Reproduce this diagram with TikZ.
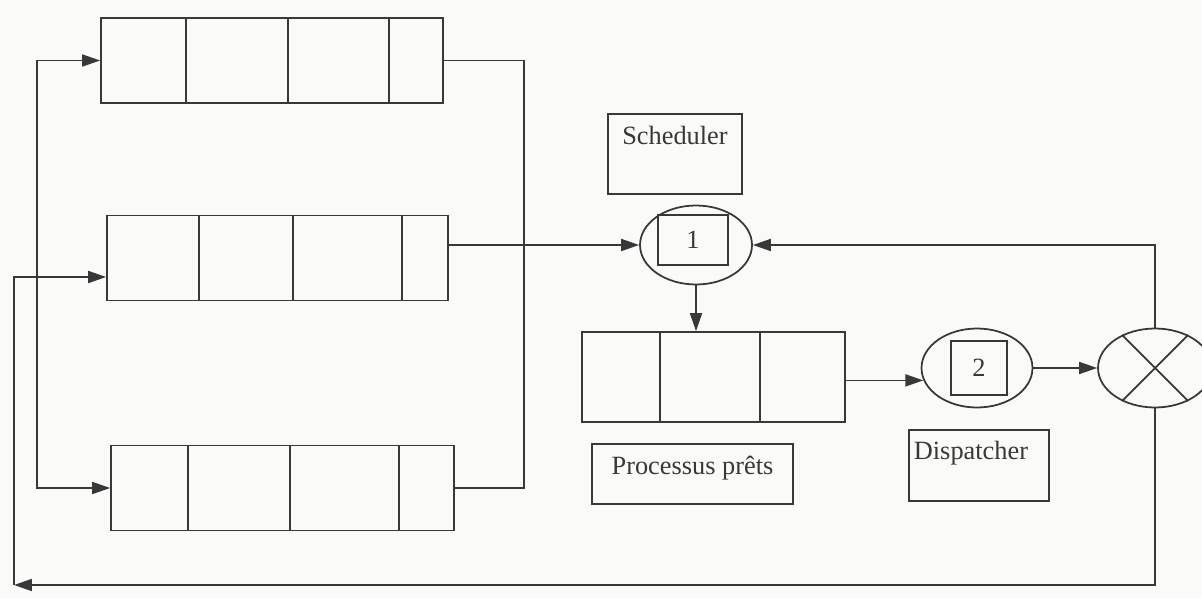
\documentclass[tikz,border=0pt]{standalone}
\usepackage{fontspec}
\setmainfont{Liberation Serif}
\usetikzlibrary{arrows.meta, shapes.geometric}
\definecolor{ink}{gray}{0.22}
\definecolor{paper}{RGB}{250,250,248}

\tikzset{
  queue/.style={draw, minimum height=1.7cm, inner sep=0pt},
  oval/.style={draw, ellipse, inner sep=0pt, minimum height=1.58cm},
  slot/.style={draw, inner sep=0pt},
  tag/.style={draw, inner sep=0pt},
  flow/.style={-{Triangle[length=3.6mm, width=2.4mm]}}
}

\begin{document}
\begin{tikzpicture}[x=0.02cm, y=-0.02cm, color=ink, line width=1pt,
    font=\fontsize{15pt}{18pt}\selectfont]
  \fill[paper] (0,0) rectangle (1202,598);
  \useasboundingbox (0,0) rectangle (1202,598);

  % Queues
  \node[queue, minimum width=6.84cm] (qtop) at (272,60.5) {};
  \node[queue, minimum width=6.82cm] (qmid) at (277.5,258) {};
  \node[queue, minimum width=6.86cm] (qbot) at (282.5,488) {};
  \node[queue, minimum width=5.26cm, minimum height=1.8cm] (ready) at (713.5,377) {};
  \foreach \x in {186,288,389} \draw (\x,18.5) -- (\x,102.5);
  \foreach \x in {199,293,402} \draw (\x,215.5) -- (\x,300.5);
  \foreach \x in {188,290,399} \draw (\x,445.5) -- (\x,530.5);
  \foreach \x in {660,760} \draw (\x,332) -- (\x,422);

  % Labels
  \node[tag, anchor=north, minimum width=2.68cm, text height=0.62cm, text depth=0.98cm] (sched) at (675,113) {Scheduler};
  \node[tag, anchor=north, minimum width=4.02cm, text height=0.62cm, text depth=0.58cm] (prets) at (692.5,443) {Processus prêts};
  \node[tag, anchor=north west, text width=2.6cm, align=left, inner xsep=0.1cm,
        text height=0.6cm, text depth=0.82cm] (disp) at (908,429) {Dispatcher};

  % Scheduler, dispatcher, processor
  \node[oval, minimum width=2.24cm] (ell1) at (696,245) {};
  \node[slot, minimum width=1.4cm, minimum height=1.0cm] (n1) at (693,240) {1};
  \node[oval, minimum width=2.22cm] (ell2) at (977,368) {};
  \node[slot, minimum width=1.12cm, minimum height=1.08cm] (n2) at (979,368) {2};
  \node[oval, minimum width=2.28cm] (cpu) at (1155,368) {};
  \draw (cpu.45) -- (cpu.225);
  \draw (cpu.135) -- (cpu.315);

  % Connectors
  \coordinate (fork) at (37,280);
  \coordinate (merge) at (524,270);
  \coordinate (corner) at (14,585);
  \draw[flow] (fork) |- (qtop.west);
  \draw[flow] (fork) |- (qbot.west);
  \draw (qtop.east) -| (merge) |- (qbot.east);
  \draw[flow] (qmid.east |- ell1.west) -- (ell1.west);
  \draw[flow] (ell1.south) -- (ell1.south |- ready.north);
  \draw[flow] (ready.east |- ell2.193) -- (ell2.193);
  \draw[flow] (ell2) -- (cpu);
  \draw[flow] (cpu.north) |- (ell1.east);
  \draw[flow] (cpu.south) |- (corner);
  \draw[flow] (corner) |- ([yshift=-0.38cm]qmid.west);
\end{tikzpicture}
\end{document}
